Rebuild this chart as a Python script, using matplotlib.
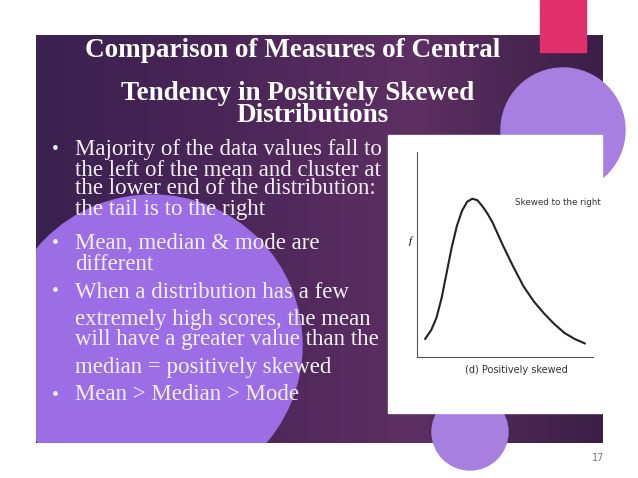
import matplotlib
matplotlib.use("Agg")
import matplotlib.pyplot as plt
from matplotlib.patches import Rectangle, Circle
import numpy as np

title_lines = ["Comparison of Measures of Central", "Tendency in Positively Skewed", "Distributions"]
bullets = [
    ["Majority of the data values fall to", "the left of the mean and cluster at", "the lower end of the distribution:", "the tail is to the right"],
    ["Mean, median & mode are", "different"],
    ["When a distribution has a few", "extremely high scores, the mean", "will have a greater value than the", "median = positively skewed"],
    ["Mean > Median > Mode"],
]
curve_x = [4, 10, 15, 20, 25, 30, 35, 40, 45, 50, 55, 60, 65, 70, 80, 90, 100, 110, 120, 130, 140, 150, 160]
curve_y = [7, 13, 21, 34, 51, 68, 82, 92, 98, 100, 99, 95, 90, 84, 69, 55, 42, 32, 24, 17, 11, 7, 4]
page_number = "17"

fig = plt.figure(figsize=(6.38, 4.78), dpi=100)
ax = fig.add_axes([0, 0, 1, 1])
ax.set_xlim(0, 638); ax.set_ylim(478, 0); ax.axis("off")

cmap = matplotlib.colors.LinearSegmentedColormap.from_list("p", ["#3a2150", "#4a2658", "#5e2f63", "#3a1f45"])
grad = np.linspace(0, 1, 256).reshape(1, -1)
ax.imshow(grad, extent=(36, 603, 443, 35), cmap=cmap, aspect="auto", zorder=0)
rect = Rectangle((36, 35), 567, 408, transform=ax.transData, facecolor="none", edgecolor="none")
ax.add_patch(rect)
big = Circle((152, 345), 150, color="#9c6ee6", zorder=1)
ax.add_patch(big)
big.set_clip_path(rect)
ax.add_patch(Circle((563, 130), 62, color="#a77fe0", zorder=1))
ax.add_patch(Circle((470, 432), 38, color="#a77fe0", zorder=1))
ax.add_patch(Rectangle((540, 0), 46, 52, color="#e2306c", zorder=2))

ser = ["Liberation Serif", "DejaVu Serif"]
tys = [50, 93, 115]
txs = [293, 298, 313]
for t, y, x in zip(title_lines, tys, txs):
    ax.text(x, y, t, color="white", fontsize=19.5, fontweight="bold", family=ser, ha="center", va="center", zorder=3)

ys = [[150, 170, 189, 209], [243, 264], [292, 319, 340, 367], [395]]
for b, yl in zip(bullets, ys):
    ax.text(52, yl[0], "•", color="#f3eef6", fontsize=14, family=ser, va="center", zorder=3)
    for line, y in zip(b, yl):
        ax.text(75, y, line, color="#f3eef6", fontsize=16.5, family=ser, va="center", zorder=3)

ax.add_patch(Rectangle((388, 135), 214, 278, color="white", zorder=3))
ax.text(598, 458, page_number, color="#777777", fontsize=7, ha="center", va="center")

ins = fig.add_axes([417/638, 1-357/478, 176/638, 205/478])
ins.plot(curve_x, curve_y, color="#222222", lw=1.5)
ins.set_xlim(-4, 168); ins.set_ylim(-5, 131)
ins.spines[["top", "right"]].set_visible(False)
ins.spines[["left", "bottom"]].set_color("#555555")
ins.set_xticks([]); ins.set_yticks([])
ins.text(92, 96, "Skewed to the right", fontsize=6.3, color="#333333")
ins.text(43, -10, "(d) Positively skewed", fontsize=7, color="#333333", ha="left", va="top", clip_on=False)
ins.text(-12, 70, "f", fontsize=8, family=ser, style="italic", clip_on=False)
fig.savefig("out.png", dpi=100)
